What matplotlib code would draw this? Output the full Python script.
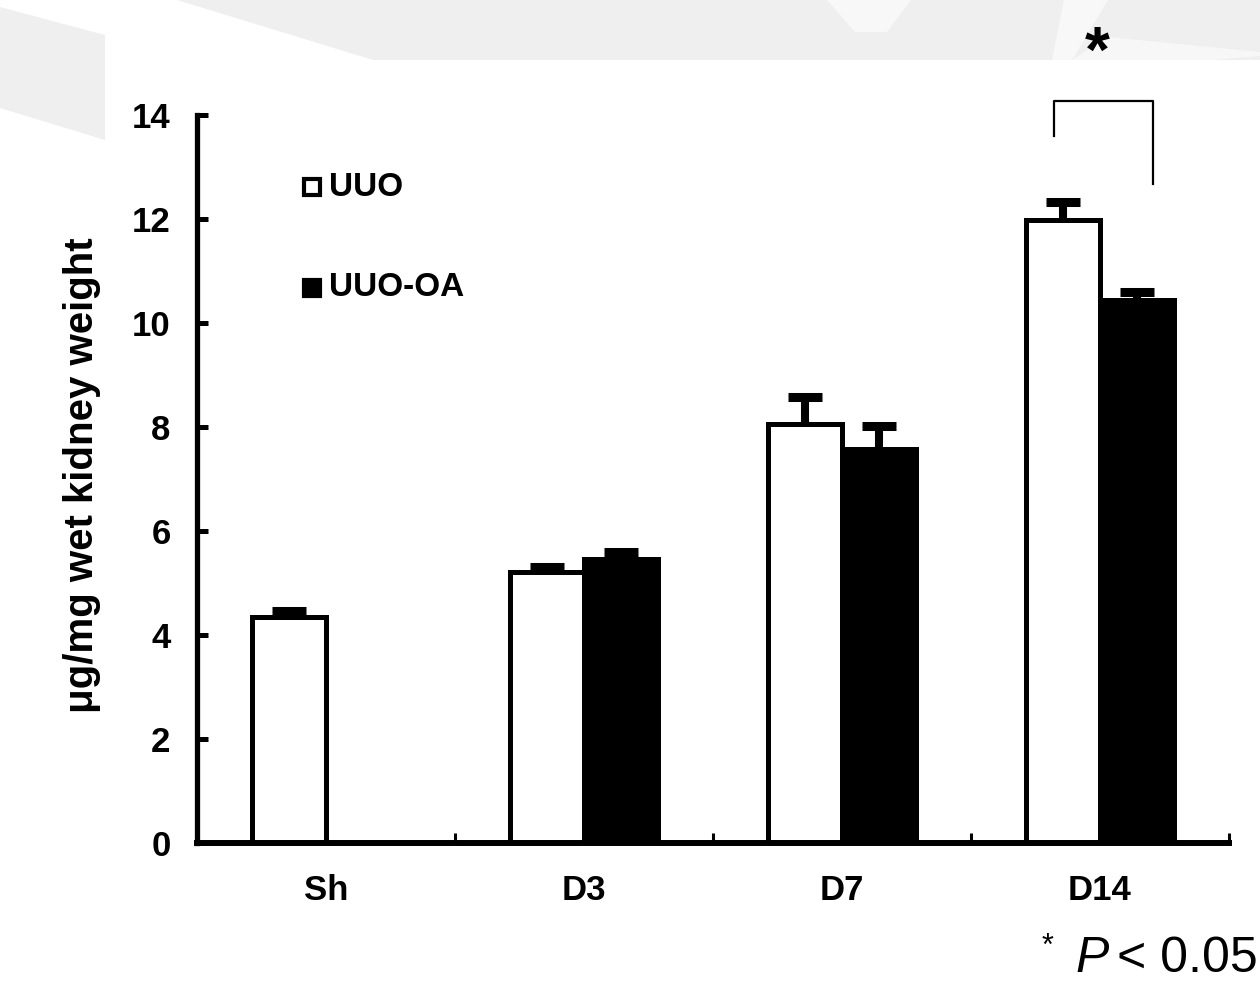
import matplotlib
matplotlib.use("Agg")
import matplotlib.pyplot as plt
import numpy as np
from matplotlib.patches import Polygon

plt.rcParams["font.family"] = ["Liberation Sans", "DejaVu Sans"]

# data
categories = ["Sh", "D3", "D7", "D14"]
uuo_mean = [4.34, 5.22, 8.05, 11.99]
uuo_err = [0.12, 0.09, 0.53, 0.34]
oa_mean = [np.nan, 5.47, 7.57, 10.45]
oa_err = [np.nan, 0.13, 0.45, 0.15]
yticks = [0, 2, 4, 6, 8, 10, 12, 14]

W, H = 1260, 981
fig = plt.figure(figsize=(W / 100, H / 100), dpi=100)
fig.patch.set_facecolor("white")


def fpoly(pts, color):
    pts = [(x / W, 1 - y / H) for x, y in pts]
    fig.patches.append(Polygon(pts, closed=True, transform=fig.transFigure,
                               facecolor=color, edgecolor="none", zorder=0))


# faint scanned background at top / left
gray = "#efefef"
fpoly([(0, 0), (W, 0), (W, 60), (105, 60), (105, 140), (0, 108)], gray)
fpoly([(0, 0), (177, 0), (373, 60), (105, 60), (105, 35), (0, 7)], "white")
fpoly([(827, 0), (911, 0), (887, 32), (855, 32)], "#f8f8f8")
fpoly([(1064, 0), (1108, 0), (1072, 60), (1052, 60)], "#f8f8f8")
fpoly([(1108, 37), (1260, 52), (1260, 56), (1212, 60), (1072, 60)], "#f7f7f7")

ax = fig.add_axes([197 / W, 1 - 843 / H, 1032 / W, 728 / H])
ax.set_facecolor("none")

x = np.arange(len(categories))
w = 0.287
ax.bar(x - w / 2, uuo_mean, w, color="white", edgecolor="black",
       linewidth=3.6, zorder=2)
ax.bar(x + w / 2, oa_mean, w, color="black", edgecolor="black",
       linewidth=3.6, zorder=2)
for xs, m, e in [(x - w / 2, uuo_mean, uuo_err), (x + w / 2, oa_mean, oa_err)]:
    eb = ax.errorbar(xs, m, yerr=[np.zeros(len(x)), e], fmt="none",
                     ecolor="black", elinewidth=5.8, capsize=12,
                     capthick=6.5, zorder=3)
    eb[1][0].set_visible(False)  # upper caps only

ax.set_xlim(-0.5, 3.5)
ax.set_ylim(0, 14)
ax.set_yticks(yticks)
ax.set_xticks(x)
ax.set_xticklabels(categories, fontsize=25, fontweight="bold")
ax.set_xticks(np.arange(0.5, 4.0, 1.0), minor=True)
ax.tick_params(axis="x", which="major", length=0, pad=22)
ax.tick_params(axis="x", which="minor", direction="in", length=7, width=2.2)
ax.tick_params(axis="y", direction="in", length=8, width=3.6, pad=19,
               labelsize=25)
for lab in ax.get_yticklabels():
    lab.set_fontweight("bold")

for s in ["top", "right"]:
    ax.spines[s].set_visible(False)
ax.spines["left"].set_linewidth(3.8)
ax.spines["bottom"].set_linewidth(4.3)

ax.set_ylabel("μg/mg wet kidney weight", fontsize=29, fontweight="bold")
ax.yaxis.set_label_coords(-0.093, 0.505)

# legend built by hand
ax.plot([0.111], [0.901], marker="s", ms=12, mew=3, mfc="white", mec="black",
        transform=ax.transAxes, clip_on=False)
ax.plot([0.111], [0.763], marker="s", ms=12, mew=3, mfc="black", mec="black",
        transform=ax.transAxes, clip_on=False)
ax.text(0.128, 0.901, "UUO", transform=ax.transAxes, fontsize=24,
        fontweight="bold", va="center", ha="left")
ax.text(0.128, 0.763, "UUO-OA", transform=ax.transAxes, fontsize=24,
        fontweight="bold", va="center", ha="left")

# significance bracket for D14
ax.plot([2.82, 2.82, 3.205, 3.205], [13.6, 14.27, 14.27, 12.67],
        color="black", lw=1.6, clip_on=False, zorder=4)
fig.text(1097 / W, 1 - 55 / H, "*", fontsize=46, fontweight="bold",
         ha="center", va="center")

# p-value note
fig.text(1048 / W, 1 - 947 / H, "*", fontsize=22, ha="center", va="center")
fig.text(1075 / W, 1 - 972 / H, "P", fontsize=36, style="italic",
         ha="left", va="baseline")
fig.text(1117 / W, 1 - 972 / H, "< 0.05", fontsize=36,
         ha="left", va="baseline")

fig.savefig("out.png", dpi=100, facecolor=fig.get_facecolor())
